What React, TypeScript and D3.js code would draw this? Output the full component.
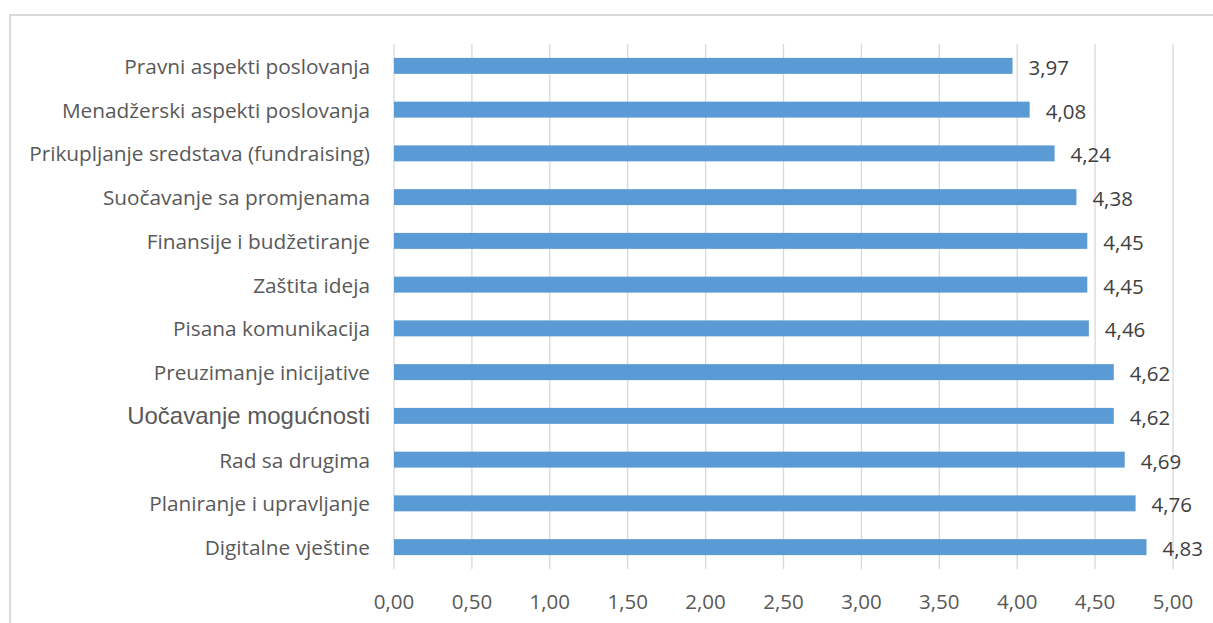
import React, { useRef, useEffect } from 'react';
import * as d3 from 'd3';

const CATEGORIES = [
  'Pravni aspekti poslovanja',
  'Menadžerski aspekti poslovanja',
  'Prikupljanje sredstava (fundraising)',
  'Suočavanje sa promjenama',
  'Finansije i budžetiranje',
  'Zaštita ideja',
  'Pisana komunikacija',
  'Preuzimanje inicijative',
  'Uočavanje mogućnosti',
  'Rad sa drugima',
  'Planiranje i upravljanje',
  'Digitalne vještine',
];
const VALUES = [3.97, 4.08, 4.24, 4.38, 4.45, 4.45, 4.46, 4.62, 4.62, 4.69, 4.76, 4.83];
const X_TICKS = [0, 0.5, 1, 1.5, 2, 2.5, 3, 3.5, 4, 4.5, 5];
// this one label uses a different font in the original
const ARIAL_LABELS = ['Uočavanje mogućnosti'];

const fmt = (v: number) => v.toFixed(2).replace('.', ',');

export default function App() {
  const svgRef = useRef<SVGSVGElement>(null);

  useEffect(() => {
    if (!svgRef.current) return;
    const width = 1213, height = 623;
    const svg = d3.select(svgRef.current);
    svg.selectAll('*').remove();

    const font = "'Open Sans', sans-serif";
    const textColor = '#595959';

    // outer chart frame (only top/left visible)
    svg.append('rect').attr('x', 10).attr('y', 15).attr('width', width + 20).attr('height', height + 20)
      .attr('fill', 'none').attr('stroke', '#d9d9d9').attr('stroke-width', 2);

    const x = d3.scaleLinear().domain([0, 5]).range([394, 1173]);
    const y = d3.scaleBand().domain(CATEGORIES).range([44, 569]).paddingInner(0.635).paddingOuter(0.3175);

    X_TICKS.forEach((t) => {
      svg.append('line').attr('x1', x(t)).attr('x2', x(t)).attr('y1', 44).attr('y2', 569)
        .attr('stroke', '#d9d9d9').attr('stroke-width', 1.3);
      svg.append('text').attr('x', x(t)).attr('y', 601).attr('text-anchor', 'middle').attr('dominant-baseline', 'central')
        .attr('fill', textColor).attr('font-family', font).attr('font-size', 20.5).text(fmt(t));
    });

    CATEGORIES.forEach((c, i) => {
      const yc = (y(c) as number) + y.bandwidth() / 2;
      svg.append('rect').attr('x', x(0)).attr('y', y(c) as number).attr('width', x(VALUES[i]) - x(0))
        .attr('height', y.bandwidth()).attr('fill', '#5b9bd5');
      svg.append('text').attr('x', x(VALUES[i]) + 16).attr('y', yc + 1).attr('dominant-baseline', 'central')
        .attr('fill', '#404040').attr('font-family', font).attr('font-size', 20.5).text(fmt(VALUES[i]));
      const isArial = ARIAL_LABELS.includes(c);
      svg.append('text').attr('x', 370).attr('y', yc).attr('text-anchor', 'end').attr('dominant-baseline', 'central')
        .attr('fill', textColor)
        .attr('font-family', isArial ? "'Liberation Sans', Arial, sans-serif" : font)
        .attr('font-size', isArial ? 24 : 20.8).text(c);
    });
  }, []);

  return (
    <div style={{ position: 'absolute', left: 0, top: 0, width: 1213, height: 623, overflow: 'hidden', background: '#fff' }}>
      <svg ref={svgRef} width={1213} height={623} style={{ display: 'block' }} />
    </div>
  );
}
